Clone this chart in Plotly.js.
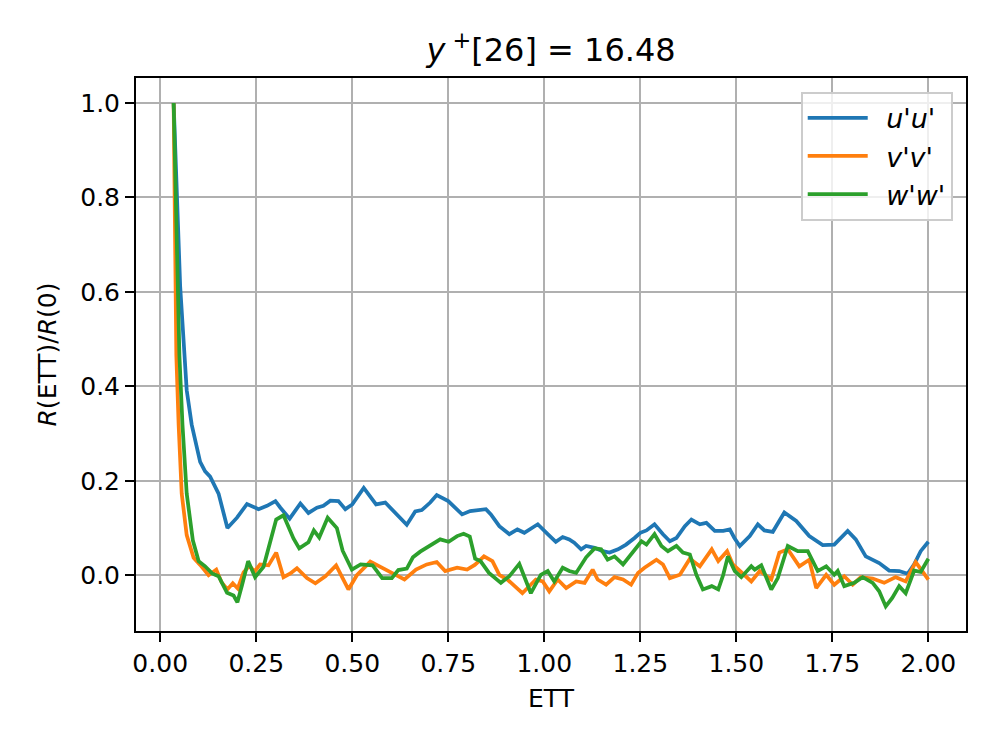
<!DOCTYPE html>
<html>
<head>
<meta charset="utf-8">
<script src="https://cdn.plot.ly/plotly-3.0.1.min.js"></script>
<style>
html,body{margin:0;padding:0;background:#fff;}
#chart{width:997px;height:747px;}
</style>
</head>
<body>
<div id="chart"></div>
<script>
// u'u' series
const uuX = [0.035,0.043,0.052,0.069,0.082,0.104,0.117,0.13,0.152,0.175,0.2,0.226,0.256,0.278,0.3,0.313,0.337,0.365,0.386,0.408,0.425,0.443,0.464,0.482,0.5,0.53,0.562,0.586,0.612,0.642,0.664,0.681,0.703,0.72,0.75,0.786,0.807,0.83,0.848,0.861,0.883,0.909,0.93,0.948,0.983,1.009,1.03,1.048,1.065,1.078,1.096,1.109,1.131,1.152,1.17,1.192,1.213,1.235,1.25,1.266,1.287,1.309,1.327,1.344,1.366,1.383,1.405,1.422,1.444,1.466,1.483,1.495,1.509,1.535,1.556,1.573,1.595,1.625,1.656,1.69,1.725,1.755,1.79,1.811,1.837,1.872,1.898,1.924,1.946,1.963,1.98,2.0];
const uuY = [1.0,0.83,0.612,0.392,0.319,0.240,0.220,0.209,0.173,0.100,0.122,0.151,0.140,0.147,0.157,0.143,0.120,0.152,0.132,0.143,0.147,0.158,0.157,0.140,0.150,0.185,0.150,0.154,0.133,0.107,0.135,0.138,0.154,0.170,0.157,0.129,0.136,0.138,0.140,0.129,0.104,0.087,0.097,0.090,0.108,0.087,0.071,0.081,0.076,0.069,0.055,0.062,0.058,0.051,0.048,0.055,0.065,0.079,0.090,0.095,0.108,0.087,0.072,0.079,0.104,0.118,0.108,0.111,0.094,0.094,0.097,0.079,0.062,0.083,0.108,0.095,0.092,0.133,0.115,0.083,0.064,0.065,0.094,0.076,0.040,0.026,0.010,0.009,0.003,0.023,0.051,0.071];

// v'v' series
const vvX = [0.035,0.038,0.042,0.048,0.056,0.069,0.087,0.104,0.126,0.146,0.16,0.175,0.189,0.202,0.217,0.232,0.246,0.26,0.282,0.302,0.321,0.339,0.356,0.382,0.404,0.43,0.458,0.49,0.512,0.547,0.573,0.608,0.636,0.666,0.694,0.72,0.742,0.773,0.799,0.819,0.83,0.843,0.865,0.883,0.904,0.943,0.978,0.996,1.013,1.035,1.057,1.083,1.105,1.126,1.139,1.161,1.183,1.205,1.226,1.244,1.261,1.292,1.309,1.327,1.353,1.379,1.405,1.436,1.453,1.476,1.491,1.509,1.539,1.561,1.591,1.612,1.634,1.664,1.69,1.708,1.734,1.755,1.781,1.803,1.824,1.855,1.885,1.915,1.941,1.967,1.984,2.0];
const vvY = [1.0,0.758,0.466,0.319,0.173,0.085,0.037,0.022,0.0,0.012,-0.015,-0.03,-0.017,-0.028,0.006,0.02,0.008,0.023,0.021,0.048,-0.004,0.004,0.015,-0.006,-0.017,-0.002,0.021,-0.03,0.0,0.029,0.017,0.003,-0.009,0.012,0.023,0.028,0.009,0.016,0.012,0.022,0.03,0.04,0.03,0.001,-0.009,-0.038,-0.009,-0.013,-0.034,-0.009,-0.027,-0.013,-0.016,0.012,-0.009,-0.02,-0.004,-0.009,-0.02,0.005,0.016,0.033,0.023,-0.006,0.001,0.035,0.019,0.055,0.03,0.051,0.023,0.009,-0.013,0.009,-0.009,0.048,0.055,0.019,0.033,-0.027,0.001,-0.02,-0.002,-0.02,-0.004,-0.007,-0.016,-0.004,-0.013,0.028,0.009,-0.009];

// w'w' series
const wwX = [0.035,0.042,0.05,0.058,0.069,0.085,0.1,0.117,0.135,0.152,0.174,0.191,0.201,0.213,0.229,0.247,0.269,0.302,0.321,0.347,0.362,0.386,0.4,0.414,0.436,0.46,0.475,0.499,0.522,0.553,0.578,0.603,0.62,0.642,0.658,0.677,0.703,0.729,0.751,0.773,0.79,0.806,0.82,0.834,0.856,0.887,0.909,0.935,0.965,0.991,1.009,1.026,1.048,1.065,1.083,1.109,1.131,1.148,1.165,1.183,1.205,1.231,1.253,1.266,1.287,1.305,1.322,1.344,1.361,1.379,1.396,1.413,1.436,1.453,1.466,1.478,1.496,1.513,1.539,1.548,1.565,1.591,1.608,1.634,1.66,1.686,1.712,1.734,1.755,1.764,1.781,1.807,1.829,1.855,1.872,1.889,1.906,1.924,1.941,1.963,1.98,2.0];
const wwY = [1.0,0.758,0.466,0.319,0.173,0.074,0.03,0.019,0.004,-0.002,-0.037,-0.043,-0.057,-0.021,0.03,-0.004,0.018,0.118,0.127,0.078,0.057,0.07,0.095,0.08,0.122,0.1,0.052,0.012,0.023,0.021,-0.006,-0.006,0.011,0.014,0.038,0.05,0.064,0.076,0.071,0.083,0.088,0.082,0.035,0.03,0.005,-0.016,-0.002,0.024,-0.038,0.001,0.009,-0.013,0.016,0.009,0.005,0.038,0.057,0.055,0.033,0.04,0.023,0.048,0.072,0.065,0.087,0.062,0.051,0.062,0.048,0.044,0.001,-0.03,-0.023,-0.03,0.001,0.04,0.009,-0.004,0.019,0.012,0.021,-0.03,-0.006,0.062,0.051,0.051,0.009,0.019,0.001,0.009,-0.023,-0.016,-0.004,-0.016,-0.034,-0.066,-0.048,-0.023,-0.038,0.01,0.007,0.035];

const seriesNames = ['\u2002<i>u\'u\'</i>', '\u2002<i>v\'v\'</i>', '\u2002<i>w\'w\'</i>'];
const seriesColors = ['#1f77b4', '#ff7f0e', '#2ca02c'];
const xTickVals = [0, 0.25, 0.5, 0.75, 1.0, 1.25, 1.5, 1.75, 2.0];
const xTickText = ['0.00','0.25','0.50','0.75','1.00','1.25','1.50','1.75','2.00'];
const yTickVals = [0, 0.2, 0.4, 0.6, 0.8, 1.0];
const yTickText = ['0.0','0.2','0.4','0.6','0.8','1.0'];

const xs = [uuX, vvX, wwX];
const ys = [uuY, vvY, wwY];
const traces = xs.map((x, i) => ({
  x: x, y: ys[i], type: 'scatter', mode: 'lines', name: seriesNames[i],
  line: {color: seriesColors[i], width: 3.75}
}));

const FONT = 'DejaVu Sans, sans-serif';
const layout = {
  width: 997, height: 747,
  margin: {l: 136, r: 31, t: 78, b: 116},
  paper_bgcolor: '#fff', plot_bgcolor: '#fff',
  font: {family: FONT, size: 25, color: '#000'},
  title: {text: '<i>y</i><sup> +</sup>[26] = 16.48', font: {family: FONT, size: 32, color: '#000'},
          x: 0.5527, xanchor: 'center', y: 0.933, yanchor: 'middle'},
  xaxis: {
    range: [-0.063, 2.098], tickvals: xTickVals, ticktext: xTickText,
    showgrid: true, gridcolor: '#b0b0b0', gridwidth: 2,
    zeroline: false, showline: true, linecolor: '#000', linewidth: 2, mirror: true,
    ticks: 'outside', ticklen: 9, tickwidth: 2, tickcolor: '#000',
    tickfont: {family: FONT, size: 25, color: '#000'},
    title: {text: 'ETT', font: {family: FONT, size: 25, color: '#000'}, standoff: 12}
  },
  yaxis: {
    range: [-0.118, 1.053], tickvals: yTickVals, ticktext: yTickText,
    showgrid: true, gridcolor: '#b0b0b0', gridwidth: 2,
    zeroline: false, showline: true, linecolor: '#000', linewidth: 2, mirror: true,
    ticks: 'outside', ticklen: 9, tickwidth: 2, tickcolor: '#000',
    tickfont: {family: FONT, size: 25, color: '#000'},
    title: {text: '<i>R</i>(ETT)/<i>R</i>(0)', font: {family: FONT, size: 25, color: '#000'}, standoff: 16}
  },
  showlegend: true,
  legend: {
    x: 0.984, xanchor: 'right', y: 0.975, yanchor: 'top',
    bgcolor: 'rgba(255,255,255,0.8)', bordercolor: '#cccccc', borderwidth: 2,
    font: {family: FONT, size: 27, color: '#000'},
    itemwidth: 60
  }
};

Plotly.newPlot('chart', traces, layout, {displayModeBar: false, staticPlot: true});
</script>
</body>
</html>
